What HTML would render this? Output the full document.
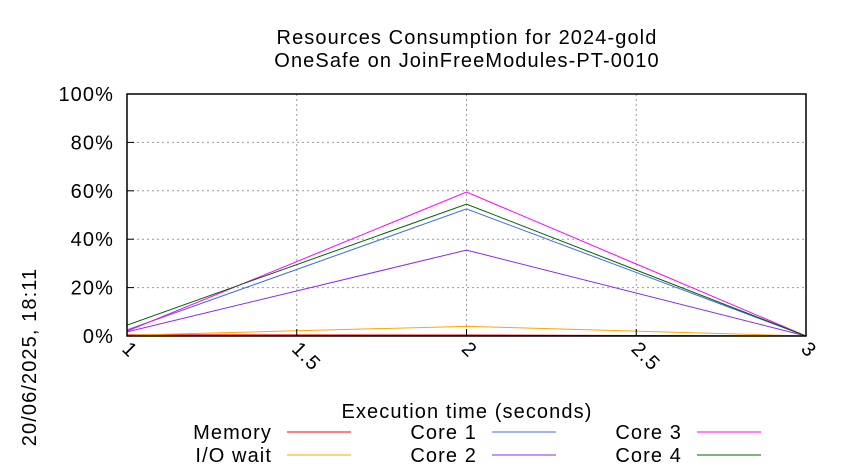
<!DOCTYPE html>
<html><head><meta charset="utf-8"><style>
body{margin:0;background:#fff;}
svg{display:block;font-family:"Liberation Sans",sans-serif;}
text{letter-spacing:1.1px;}
</style></head><body>
<svg id="chart" width="850" height="475">
<g id="grid"></g>
<g id="series"></g>
<g id="axes"></g>
<text x="467" y="44" font-size="20" text-anchor="middle">Resources Consumption for 2024-gold</text>
<text x="467" y="67" font-size="20" text-anchor="middle">OneSafe on JoinFreeModules-PT-0010</text>
<text x="467" y="418" font-size="20" text-anchor="middle">Execution time (seconds)</text>
<text transform="translate(36,357) rotate(-90)" font-size="20" text-anchor="middle">20/06/2025, 18:11</text>
<g id="legend"></g>
</svg>
<script>
const xValues=[1,2,3];
const memory=[0.5,0.4,0];
const ioWait=[0.3,4,0];
const core1=[2.5,52.5,0];
const core2=[1.7,35.5,0];
const core3=[2,59.5,0];
const core4=[4.5,54.5,0];
const xTicks=[1,1.5,2,2.5,3];
const xTickLabels=["1","1.5","2","2.5","3"];
const yTicks=[0,20,40,60,80,100];
const yTickLabels=["0%","20%","40%","60%","80%","100%"];
const NS="http://www.w3.org/2000/svg";
const L=127,R=806,T=94,B=336;
const xs=v=>L+(v-1)/2*(R-L);
const ys=v=>B-v/100*(B-T);
function mk(tag,attrs,parent){const e=document.createElementNS(NS,tag);for(const k in attrs)e.setAttribute(k,attrs[k]);parent.appendChild(e);return e;}
const grid=document.getElementById('grid'),axes=document.getElementById('axes'),ser=document.getElementById('series'),leg=document.getElementById('legend');
yTicks.forEach((t,i)=>{
 if(t>0&&t<100){const g=mk('line',{x1:L,x2:R,y1:ys(t),y2:ys(t),stroke:'#999','stroke-dasharray':'2,3','stroke-width':1},grid);
 
 }
 const tk=mk('line',{x1:L,x2:L+7,y1:ys(t),y2:ys(t),stroke:'#000'},axes);
 
 
 const tx=mk('text',{x:L-13,y:ys(t)+7,'font-size':20,'text-anchor':'end'},axes);
 tx.textContent=yTickLabels[i];
 
 
});
xTicks.forEach((t,i)=>{
 if(t>1&&t<3){const g=mk('line',{x1:xs(t),x2:xs(t),y1:T,y2:B,stroke:'#999','stroke-dasharray':'2,3','stroke-width':1},grid);
 
 }
 const tk=mk('line',{x1:xs(t),x2:xs(t),y1:B,y2:B-7,stroke:'#000'},axes);
 
 
 const tx=mk('text',{transform:`translate(${xs(t)-6},${B+14}) rotate(45)`,'font-size':20},axes);
 tx.textContent=xTickLabels[i];
 
 
});
const frame=mk('rect',{x:L,y:T,width:R-L,height:B-T,fill:'none',stroke:'#000','stroke-width':1.5},axes);


const series=[
 ['Memory',memory,'#ff0000','memory'],['I/O wait',ioWait,'#ffa500','io-wait'],
 ['Core 1',core1,'#4169e1','core-1'],['Core 2',core2,'#8a2be2','core-2'],
 ['Core 3',core3,'#ff00ff','core-3'],['Core 4',core4,'#006400','core-4']];
const legPos=[[272,432,287],[272,455,287],[477,432,492],[477,455,492],[682,432,697],[682,455,697]];
series.forEach((s,i)=>{
 const p=mk('polyline',{points:xValues.map((x,j)=>xs(x)+','+ys(s[1][j])).join(' '),fill:'none',stroke:s[2],'stroke-width':1},ser);
 
 
 const [tx,ty,lx]=legPos[i];
 const t=mk('text',{x:tx,y:ty+7,'font-size':20,'text-anchor':'end'},leg);
 t.textContent=s[0];
 
 
 const l=mk('line',{x1:lx,x2:lx+64,y1:ty,y2:ty,stroke:s[2],'stroke-width':1},leg);
 
 
});
</script>
</body></html>
